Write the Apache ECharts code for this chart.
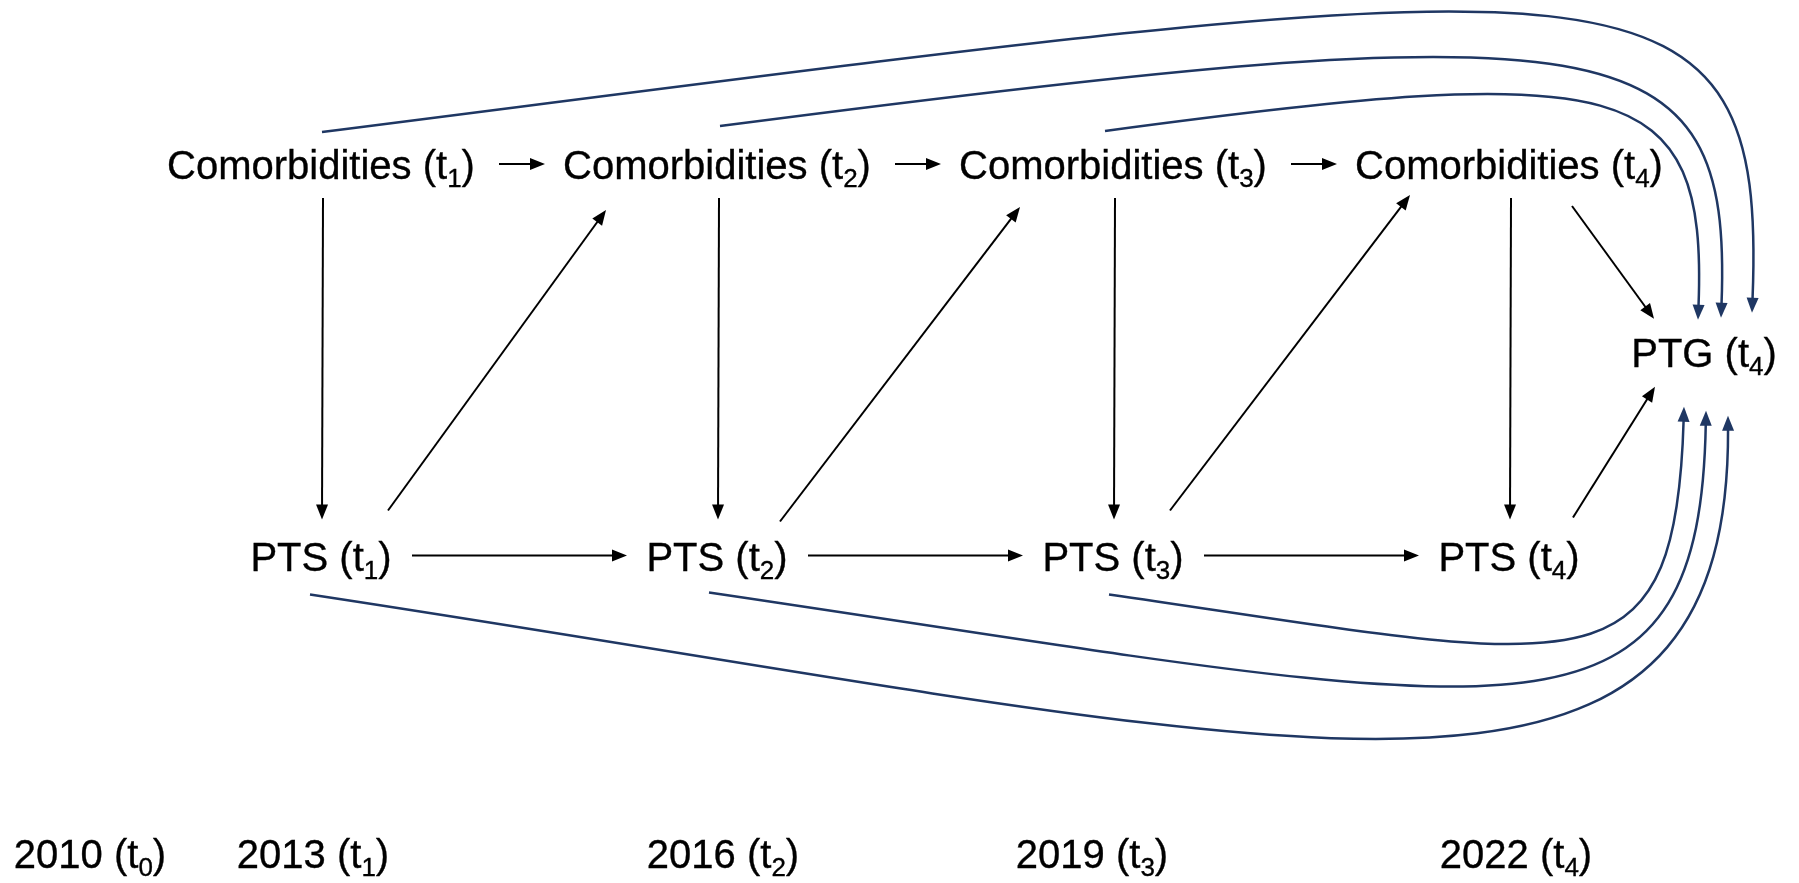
<!DOCTYPE html>
<html>
<head>
<meta charset="utf-8">
<script src="https://cdn.jsdelivr.net/npm/echarts@6/dist/echarts.min.js"></script>
<style>html,body{margin:0;padding:0;background:#ffffff}#chart{width:1799px;height:883px}</style>
</head>
<body>
<div id="chart"></div>
<script>
// ================= DATA =================
// measurement waves (subscripts of t)
const waves = ['1', '2', '3', '4'];
// construct names
const comorbidityName = 'Comorbidities';
const ptsName = 'PTS';
const ptgName = 'PTG';
const ptgWaveSub = '4';
// time line labels
const yearLabels = ['2010', '2013', '2016', '2019', '2022'];
const yearWaveSubs = ['0', '1', '2', '3', '4'];
// paths (from -> to), node ids: C = comorbidities, P = PTS, G = PTG(t4)
const comorbidityStability = [['C1', 'C2'], ['C2', 'C3'], ['C3', 'C4']];
const ptsStability = [['P1', 'P2'], ['P2', 'P3'], ['P3', 'P4']];
const comorbidityToPts = [['C1', 'P1'], ['C2', 'P2'], ['C3', 'P3'], ['C4', 'P4']];
const ptsToNextComorbidity = [['P1', 'C2'], ['P2', 'C3'], ['P3', 'C4']];
const proximalToPtg = [['C4', 'G'], ['P4', 'G']];
const comorbidityDirectToPtg = [['C1', 'G'], ['C2', 'G'], ['C3', 'G']];
const ptsDirectToPtg = [['P1', 'G'], ['P2', 'G'], ['P3', 'G']];

// ================= LAYOUT / STYLE =================
const L = {
  unitX: 396, originX: -75,      // pixel of wave 0, pixels per wave
  unitY: 195.75, originY: 166,   // pixel of row 0, pixels per row
  rowC: 0, rowP: 2, rowG: 1, rowY: 3.5,
  waveG: 4.5,
  nudgeG: [-3, -6],
  textDyCP: 2,
  yearNudge: [[165, 6], [-8, 6], [6, 6], [-21, 6], [7, 6]],
  font: '"Liberation Sans", Arial, sans-serif',
  fontSize: 40, subSize: 26, subDy: 12,
  black: '#000000', blue: '#1f3763',
  lwBlack: 2, lwBlue: 2.5,
  headLen: 15, headHalf: 6
};
const black = {
  CC: { s: [178, -2], t: [-172, -2] },
  PP: { s: [91, -2], t: [-90, -2] },
  CP: { s: [2, 32], t: [1, -38] },
  PC: [ { s: [67, -47], t: [-111, 44] }, { s: [63, -36], t: [-93, 41] }, { s: [57, -47], t: [-99, 29] } ],
  CG: { s: [63, 40], t: [-50, -37] },
  PG: { s: [64, -40], t: [-49, 31] }
};
const curveTop = [
  { s: [1, -34], t: [48, -43], h1: [1300, -165], h2: [15, -372] },
  { s: [3, -40], t: [17, -38], h1: [900, -117], h2: [11, -282] },
  { s: [-8, -35], t: [-6, -36], h1: [520, -70], h2: [9, -232] }
];
const curveBottom = [
  { s: [-11, 37], t: [24, 60], h1: [990, 150], h2: [2, 456] },
  { s: [-8, 35], t: [2, 55], h1: [800, 118], h2: [-6, 352] },
  { s: [-4, 37], t: [-20, 51], h1: [471, 68], h2: [-8, 284] }
];

// ================= BUILD =================
const nodes = {};
waves.forEach((w, i) => {
  nodes['C' + w] = { wave: i + 1, row: L.rowC, name: comorbidityName, sub: w, nudge: [0, 0], textNudge: [0, L.textDyCP] };
  nodes['P' + w] = { wave: i + 1, row: L.rowP, name: ptsName, sub: w, nudge: [0, 0], textNudge: [0, L.textDyCP] };
});
nodes['G'] = { wave: L.waveG, row: L.rowG, name: ptgName, sub: ptgWaveSub, nudge: L.nudgeG, textNudge: L.nudgeG };
const nodeIds = Object.keys(nodes);

const labels = nodeIds.map(id => ({ wave: nodes[id].wave, row: nodes[id].row, name: nodes[id].name, sub: nodes[id].sub, nudge: nodes[id].textNudge }));
yearLabels.forEach((y, i) => labels.push({ wave: i, row: L.rowY, name: y, sub: yearWaveSubs[i], nudge: L.yearNudge[i] }));

const measureCtx = document.createElement('canvas').getContext('2d');
function textW(s, size) { measureCtx.font = size + 'px ' + L.font; return measureCtx.measureText(s).width; }

function labelGroup(p, name, sub) {
  const a = name + ' (t', c = ')';
  const wa = textW(a, L.fontSize), ws = textW(sub, L.subSize), wc = textW(c, L.fontSize);
  const x0 = p[0] - (wa + ws + wc) / 2;
  const base = { fontFamily: L.font, fill: L.black, stroke: L.black, lineWidth: 0.35, align: 'left', verticalAlign: 'middle' };
  return [
    { type: 'text', x: x0, y: p[1], style: Object.assign({ text: a, fontSize: L.fontSize }, base) },
    { type: 'text', x: x0 + wa, y: p[1] + L.subDy, style: Object.assign({ text: sub, fontSize: L.subSize }, base) },
    { type: 'text', x: x0 + wa + ws, y: p[1], style: Object.assign({ text: c, fontSize: L.fontSize }, base) }
  ];
}

function px(id, api) {
  const n = nodes[id];
  const p = api.coord([n.wave, n.row]);
  return [p[0] + n.nudge[0], p[1] + n.nudge[1]];
}
function add(p, o) { return [p[0] + o[0], p[1] + o[1]]; }

function head(tip, from, color) {
  const dx = tip[0] - from[0], dy = tip[1] - from[1];
  const len = Math.hypot(dx, dy), ux = dx / len, uy = dy / len;
  const b = [tip[0] - ux * L.headLen, tip[1] - uy * L.headLen];
  const nx = -uy, ny = ux;
  return {
    type: 'polygon',
    shape: { points: [tip, [b[0] + nx * L.headHalf, b[1] + ny * L.headHalf], [b[0] - nx * L.headHalf, b[1] - ny * L.headHalf]] },
    style: { fill: color }
  };
}

// black straight paths
const straightEdges = [];
comorbidityStability.forEach(e => straightEdges.push({ e, lay: black.CC }));
ptsStability.forEach(e => straightEdges.push({ e, lay: black.PP }));
comorbidityToPts.forEach(e => straightEdges.push({ e, lay: black.CP }));
ptsToNextComorbidity.forEach((e, i) => straightEdges.push({ e, lay: black.PC[i] }));
straightEdges.push({ e: proximalToPtg[0], lay: black.CG });
straightEdges.push({ e: proximalToPtg[1], lay: black.PG });

const curvedEdges = [];
comorbidityDirectToPtg.forEach((e, i) => curvedEdges.push({ e, lay: curveTop[i] }));
ptsDirectToPtg.forEach((e, i) => curvedEdges.push({ e, lay: curveBottom[i] }));

function edgeValue(e) {
  const a = nodes[e[0]], b = nodes[e[1]];
  return [a.wave, a.row, b.wave, b.row];
}

const chart = echarts.init(document.getElementById('chart'), null, { renderer: 'canvas' });
chart.setOption({
  animation: false,
  backgroundColor: '#ffffff',
  textStyle: { fontFamily: L.font, color: '#000000' },
  grid: {
    left: L.originX + 0.5 * L.unitX,
    width: 4.2 * L.unitX,
    top: L.originY - 0.5 * L.unitY,
    height: 4.1 * L.unitY,
    outerBoundsMode: 'none',
    containLabel: false
  },
  xAxis: { type: 'value', min: 0.5, max: 4.7, show: false },
  yAxis: { type: 'value', min: -0.5, max: 3.6, inverse: true, show: false },
  series: [
    {
      type: 'custom', silent: true, clip: false,
      encode: { x: [0, 2], y: [1, 3] },
      data: straightEdges.map(d => edgeValue(d.e)),
      renderItem: (params, api) => {
        const d = straightEdges[params.dataIndex];
        const a = add(px(d.e[0], api), d.lay.s);
        const b = add(px(d.e[1], api), d.lay.t);
        const dx = b[0] - a[0], dy = b[1] - a[1], len = Math.hypot(dx, dy);
        const end = [b[0] - dx / len * (L.headLen - 2), b[1] - dy / len * (L.headLen - 2)];
        return {
          type: 'group', children: [
            { type: 'line', shape: { x1: a[0], y1: a[1], x2: end[0], y2: end[1] }, style: { stroke: L.black, lineWidth: L.lwBlack } },
            head(b, a, L.black)
          ]
        };
      }
    },
    {
      type: 'custom', silent: true, clip: false,
      encode: { x: [0, 2], y: [1, 3] },
      data: curvedEdges.map(d => edgeValue(d.e)),
      renderItem: (params, api) => {
        const d = curvedEdges[params.dataIndex];
        const a = add(px(d.e[0], api), d.lay.s);
        const b = add(px(d.e[1], api), d.lay.t);
        const c1 = add(a, d.lay.h1);
        const c2 = add(b, d.lay.h2);
        const dx = b[0] - c2[0], dy = b[1] - c2[1], len = Math.hypot(dx, dy);
        const sh = L.headLen - 2;
        const end = [b[0] - dx / len * sh, b[1] - dy / len * sh];
        const c2s = [c2[0] - dx / len * sh, c2[1] - dy / len * sh];
        return {
          type: 'group', children: [
            { type: 'bezierCurve', shape: { x1: a[0], y1: a[1], cpx1: c1[0], cpy1: c1[1], cpx2: c2s[0], cpy2: c2s[1], x2: end[0], y2: end[1] },
              style: { stroke: L.blue, lineWidth: L.lwBlue, fill: null } },
            head(b, c2, L.blue)
          ]
        };
      }
    },
    {
      type: 'custom', silent: true, clip: false,
      encode: { x: 0, y: 1 },
      data: labels.map(l => [l.wave, l.row]),
      renderItem: (params, api) => {
        const l = labels[params.dataIndex];
        const p = api.coord([l.wave, l.row]);
        return { type: 'group', children: labelGroup([p[0] + l.nudge[0], p[1] + l.nudge[1]], l.name, l.sub) };
      }
    }
  ]
});
</script>
</body>
</html>
